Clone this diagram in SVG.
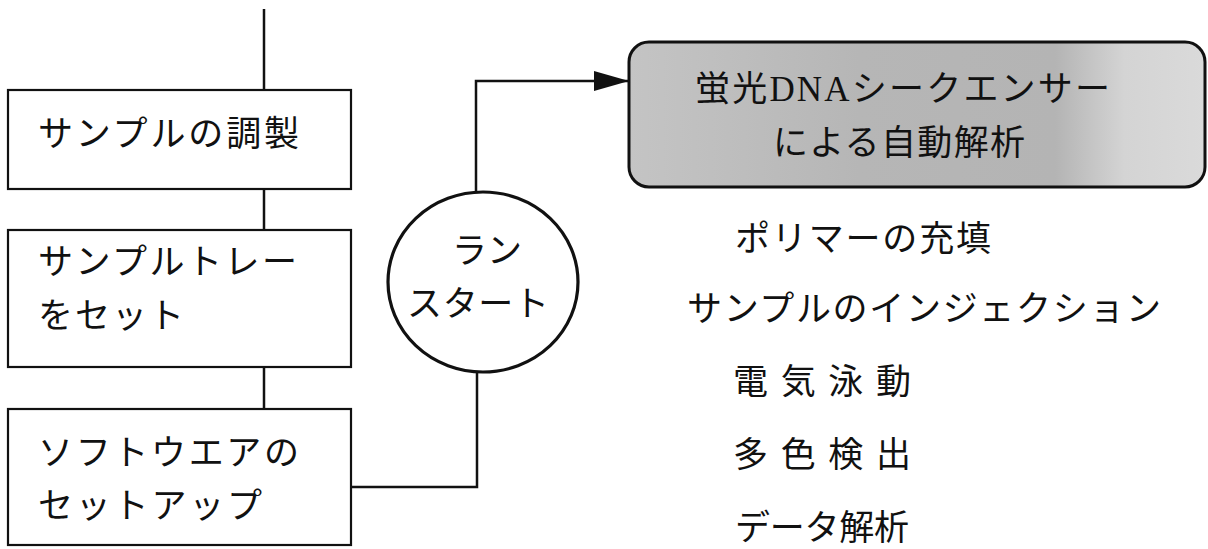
<svg xmlns="http://www.w3.org/2000/svg" width="1208" height="549" viewBox="0 0 1208 549">
<style>
  .box { fill: #ffffff; stroke: #111111; stroke-width: 2.2; }
  .line { fill: none; stroke: #111111; stroke-width: 2.5; }
  .t { font-family: "Noto Sans CJK JP", "Noto Sans CJK SC", sans-serif; font-size: 35px; fill: #111111; }
  .serif { font-family: "Liberation Serif", serif; }
</style>
<defs>
  <marker id="arrow" markerUnits="userSpaceOnUse" markerWidth="36" markerHeight="22" refX="35" refY="10" orient="auto">
    <path d="M0,0 L35,10 L0,20 Z" fill="#111111"/>
  </marker>
  <linearGradient id="gray" x1="0" y1="0" x2="1" y2="0">
    <stop offset="0" stop-color="#c4c4c4"/>
    <stop offset="0.4" stop-color="#b6b6b6"/>
    <stop offset="0.74" stop-color="#b4b4b4"/>
    <stop offset="0.86" stop-color="#d4d4d4"/>
    <stop offset="1" stop-color="#dadada"/>
  </linearGradient>
</defs>

<g id="connectors">
  <path class="line" d="M264,9 L264,90"/>
  <path class="line" d="M264,189 L264,230"/>
  <path class="line" d="M264,367 L264,409"/>
  <path class="line" d="M351,487 L477,487 L477,372"/>
  <path class="line" d="M476,192 L476,81 L629,81" marker-end="url(#arrow)"/>
</g>

<g id="node-prep">
  <rect class="box" x="8" y="90" width="343" height="99"/>
  <text class="t" x="38" y="146" textLength="261">サンプルの調製</text>
</g>

<g id="node-tray">
  <rect class="box" x="8" y="230" width="343" height="137"/>
  <text class="t" x="38" y="274" textLength="259">サンプルトレー</text>
  <text class="t" x="38" y="328" textLength="146">をセット</text>
</g>

<g id="node-software">
  <rect class="box" x="8" y="409" width="343" height="136"/>
  <text class="t" x="38" y="465" textLength="261">ソフトウエアの</text>
  <text class="t" x="38" y="518" textLength="224">セットアップ</text>
</g>

<g id="node-runstart">
  <ellipse cx="483" cy="282" rx="95" ry="90" fill="#ffffff" stroke="#111111" stroke-width="3.2"/>
  <text class="t" x="452" y="263" textLength="70">ラン</text>
  <text class="t" x="407" y="316" textLength="142">スタート</text>
</g>

<g id="node-analysis">
  <rect x="629" y="42" width="576" height="145" rx="20" ry="20" fill="url(#gray)" stroke="#111111" stroke-width="3"/>
  <text class="t" x="695" y="101" textLength="415" font-size="36">蛍光<tspan class="serif">DNA</tspan>シークエンサー</text>
  <text class="t" x="773" y="155" textLength="252" font-size="36">による自動解析</text>
</g>

<g id="steps">
  <text class="t" x="735" y="251" textLength="256">ポリマーの充填</text>
  <text class="t" x="687" y="321" textLength="474">サンプルのインジェクション</text>
  <text class="t" x="733" y="394" textLength="178">電気泳動</text>
  <text class="t" x="733" y="467" textLength="178">多色検出</text>
  <text class="t" x="735" y="540" textLength="174">データ解析</text>
</g>
</svg>
